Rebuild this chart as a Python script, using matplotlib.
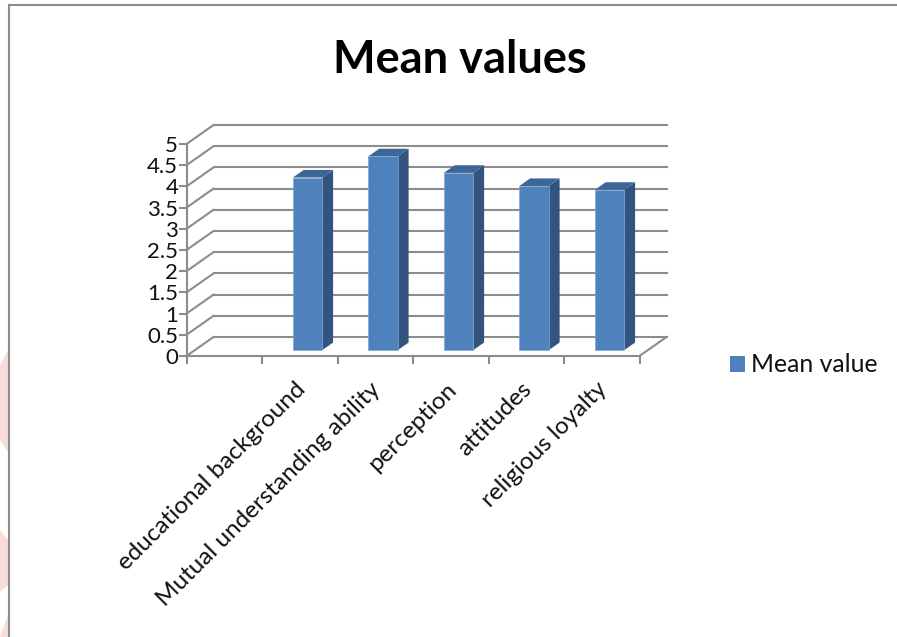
import numpy as np
import matplotlib
matplotlib.use("Agg")
import matplotlib.pyplot as plt
from matplotlib.patches import Polygon

# first slot of the sheet is empty in the original chart
categories = ["", "educational background", "Mutual understanding ability",
              "perception", "attitudes", "religious loyalty"]
mean_values = [np.nan, 4.07, 4.57, 4.18, 3.87, 3.78]
y_ticks = [0, 0.5, 1, 1.5, 2, 2.5, 3, 3.5, 4, 4.5, 5]
y_tick_labels = ["0", "0.5", "1", "1.5", "2", "2.5", "3", "3.5", "4", "4.5", "5"]
series_name = "Mean value"
chart_title = "Mean values"

W, H = 897, 637
plt.rcParams["font.family"] = ["Lato", "DejaVu Sans"]

fig = plt.figure(figsize=(W / 100, H / 100), dpi=100)
ax = fig.add_axes([186.5 / W, 1 - 356 / H, 453 / W, 212 / H])
ax.set_xlim(-0.5, 5.5)
ax.set_ylim(0, 5)

GRID = "#8c8c8c"
FRONT = "#4f81bd"
SIDE = "#32547f"
TOP = "#3c6698"

# fake 3d: depth of the floor, in data units
px_x = 6 / 453
px_y = 5 / 212
depth_x = 27 * px_x
depth_y = 19 * px_y
bar_width = 0.39
near = 0.29
far = 0.69

# back wall and side wall
for y in y_ticks:
    ax.plot([-0.5 + depth_x, 5.5 + depth_x], [y + depth_y, y + depth_y],
            color=GRID, lw=1.5, clip_on=False, zorder=1)
    ax.plot([-0.5, -0.5 + depth_x], [y, y + depth_y],
            color=GRID, lw=1.5, clip_on=False, zorder=1)
ax.plot([5.5, 5.5 + depth_x], [0, depth_y], color=GRID, lw=1.5, clip_on=False, zorder=1)

# bars, side and top first
for x, v in zip(range(len(categories)), mean_values):
    if np.isnan(v):
        continue
    x0 = x - bar_width / 2 + near * depth_x
    x1 = x + bar_width / 2 + near * depth_x
    y0 = 0.31 * depth_y
    y1 = v + 0.31 * depth_y
    sx = (far - near) * depth_x
    sy = (far - near) * depth_y
    ax.add_patch(Polygon([(x1, y0), (x1 + sx, y0 + sy), (x1 + sx, y1 + sy), (x1, y1)],
                         facecolor=SIDE, edgecolor="none", clip_on=False, zorder=3))
    ax.add_patch(Polygon([(x0, y1), (x1, y1), (x1 + sx, y1 + sy), (x0 + sx, y1 + sy)],
                         facecolor=TOP, edgecolor="none", clip_on=False, zorder=3))
bars = ax.bar(np.arange(len(categories)) + near * depth_x, mean_values, width=bar_width,
              bottom=0.31 * depth_y, color=FRONT, edgecolor="#7fa6d6", linewidth=0.5,
              zorder=4, clip_on=False, label=series_name)

for s in ["top", "right"]:
    ax.spines[s].set_visible(False)
for s in ["left", "bottom"]:
    ax.spines[s].set_color(GRID)
    ax.spines[s].set_linewidth(1.5)

ax.set_yticks(y_ticks)
ax.set_yticklabels(y_tick_labels, fontsize=16, color="#111111")
ax.set_xticks(np.arange(-0.5, 6, 1))
ax.set_xticklabels([])
ax.tick_params(axis="both", color=GRID, width=1.5, length=6, pad=3)
ax.tick_params(axis="y", pad=0)

# labels sit under the slots, not on the tick marks
for x, name in zip(range(len(categories)), categories):
    ax.annotate(name, xy=(x, 0), xytext=(2, -30), textcoords="offset pixels",
                rotation=45, rotation_mode="anchor", ha="right", va="center",
                fontsize=17.5, color="#111111", annotation_clip=False)

fig.text(460 / W, 1 - 60 / H, chart_title, fontsize=32.5, fontweight="bold",
         ha="center", va="center", color="#000000")

ax.legend(handles=[bars], loc="center left", bbox_to_anchor=(708 / W, 1 - 365 / H),
          bbox_transform=fig.transFigure, frameon=False, fontsize=17.8,
          handlelength=0.6, handleheight=0.6, handletextpad=0.22, labelcolor="#111111")
leg = ax.get_legend()
leg.legend_handles[0].set_edgecolor("none")

# page watermark at the left edge, then outer chart frame (top and left only)
pink = "#f9dcdc"
for pts in [[(0, 365), (8, 350), (8, 452), (0, 440)],
            [(0, 530), (8, 540), (8, 585), (0, 592)],
            [(8, 615), (8, 637), (0, 637)]]:
    fig.add_artist(Polygon([(px / W, 1 - py / H) for px, py in pts],
                           transform=fig.transFigure, facecolor=pink, edgecolor="none"))
fig.add_artist(plt.Line2D([9 / W, 9 / W], [0, 1 - 5 / H], color="#8c8c8c", lw=1.5))
fig.add_artist(plt.Line2D([9 / W, 1], [1 - 5 / H, 1 - 5 / H], color="#8c8c8c", lw=1.5))

fig.savefig("out.png", dpi=100)
